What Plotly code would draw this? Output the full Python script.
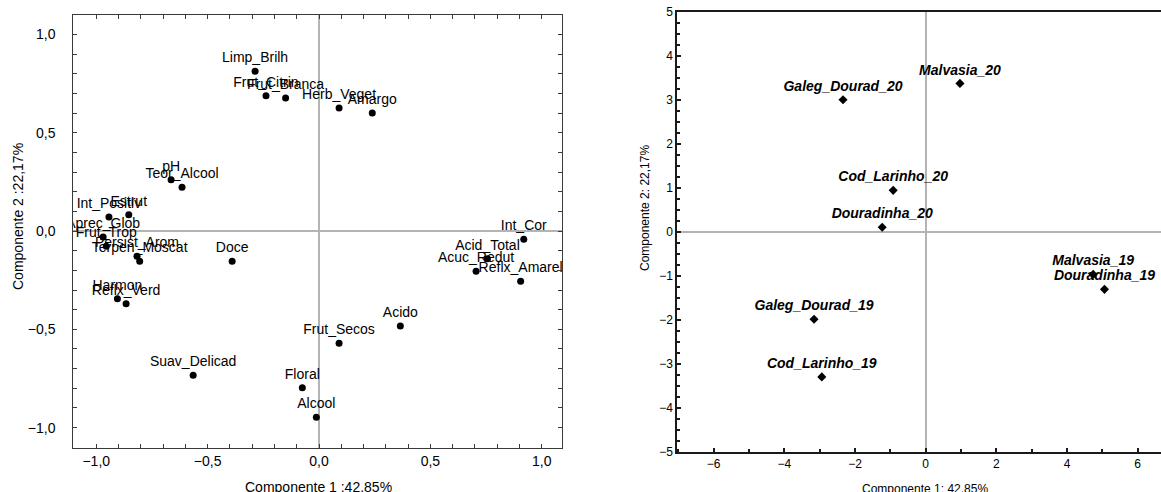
import plotly.graph_objects as go

W, H = 1161, 492

# ---- Data: variable loadings (left panel) ----
var_names = ["Limp_Brilh", "Frut_Citrin", "Frut_Branca", "Herb_Veget", "Amargo",
             "pH", "Teor_Alcool", "Int_Positiv", "Estrut", "Aprec_Glob",
             "Frut_Trop", "Persist_Arom", "Terpen_Moscat", "Doce", "Harmon",
             "Reflx_Verd", "Int_Cor", "Acid_Total", "Acuc_Redut", "Reflx_Amarel",
             "Acido", "Frut_Secos", "Suav_Delicad", "Floral", "Alcool"]
var_pc1 = [-0.287, -0.238, -0.150, 0.090, 0.239,
           -0.664, -0.615, -0.943, -0.854, -0.969,
           -0.955, -0.817, -0.805, -0.390, -0.905,
           -0.866, 0.919, 0.756, 0.705, 0.905,
           0.365, 0.090, -0.565, -0.075, -0.012]
var_pc2 = [0.813, 0.688, 0.676, 0.625, 0.600,
           0.261, 0.222, 0.071, 0.083, -0.030,
           -0.078, -0.129, -0.154, -0.154, -0.344,
           -0.370, -0.042, -0.141, -0.205, -0.256,
           -0.483, -0.571, -0.734, -0.797, -0.947]

# ---- Data: sample scores (right panel) ----
sample_names = ["Malvasia_20", "Galeg_Dourad_20", "Cod_Larinho_20", "Douradinha_20",
                "Malvasia_19", "Douradinha_19", "Galeg_Dourad_19", "Cod_Larinho_19"]
sample_pc1 = [0.97, -2.34, -0.92, -1.23, 4.74, 5.06, -3.16, -2.94]
sample_pc2 = [3.37, 3.00, 0.94, 0.10, -0.97, -1.31, -1.99, -3.30]

left_xtitle = "Componente 1 :42,85%"
left_ytitle = "Componente 2 :22,17%"
right_xtitle = "Componente 1: 42,85%"
right_ytitle = "Componente 2: 22,17%"

FONT = "Arial, 'Liberation Sans', sans-serif"

def px(x):
    return x / W

def py(y):
    return 1 - y / H

fig = go.Figure()

fig.add_trace(go.Scatter(
    x=var_pc1, y=var_pc2, text=var_names, mode="markers+text",
    textposition="top center", cliponaxis=True,
    marker=dict(symbol="circle", size=7, color="black"),
    textfont=dict(family=FONT, size=14, color="black"),
    xaxis="x", yaxis="y", showlegend=False, hoverinfo="skip"))

fig.add_trace(go.Scatter(
    x=sample_pc1, y=sample_pc2, text=sample_names, mode="markers+text",
    textposition="top center", cliponaxis=True,
    marker=dict(symbol="diamond", size=7, color="black"),
    textfont=dict(family=FONT, size=14, color="black", weight="bold", style="italic"),
    xaxis="x2", yaxis="y2", showlegend=False, hoverinfo="skip"))

left_line = "#3a3a3a"
right_line = "#1a1a1a"
zero_col = "#b4b4b4"

fig.update_layout(
    width=W, height=H,
    margin=dict(l=0, r=0, t=0, b=0),
    paper_bgcolor="white", plot_bgcolor="white",
    separators=", ",
    font=dict(family=FONT, color="black"),
    xaxis=dict(domain=[px(73.3), px(562.3)], range=[-1.103, 1.092],
               anchor="y", tickmode="array", tickvals=[-1.0, -0.5, 0.0, 0.5, 1.0],
               tickformat=".1f", ticks="inside", ticklen=4, tickcolor=left_line,
               minor=dict(dtick=0.1, tick0=0, ticks="inside", ticklen=4, tickcolor=left_line),
               showline=True, linecolor=left_line, linewidth=1, mirror="allticks",
               showgrid=False, zeroline=True, zerolinecolor=zero_col, zerolinewidth=1.5,
               tickfont=dict(size=14), automargin=False, fixedrange=True),
    yaxis=dict(domain=[py(447.7), py(15.3)], range=[-1.102, 1.097],
               anchor="x", tickmode="array", tickvals=[-1.0, -0.5, 0.0, 0.5, 1.0],
               tickformat=".1f", ticks="inside", ticklen=4, tickcolor=left_line,
               ticklabelstandoff=14,
               minor=dict(dtick=0.1, tick0=0, ticks="inside", ticklen=4, tickcolor=left_line),
               showline=True, linecolor=left_line, linewidth=1, mirror="allticks",
               showgrid=False, zeroline=True, zerolinecolor=zero_col, zerolinewidth=1.5,
               tickfont=dict(size=14), automargin=False, fixedrange=True),
    xaxis2=dict(domain=[px(677.3), 1.0], range=[-7.03, 6.66],
                anchor="y2", tickmode="array", tickvals=[-6, -4, -2, 0, 2, 4, 6],
                ticks="inside", ticklen=4, tickcolor=right_line, tickwidth=1.5,
                minor=dict(dtick=1, tick0=0, ticks="inside", ticklen=3, tickcolor=right_line),
                showline=True, linecolor=right_line, linewidth=2, mirror=True,
                showgrid=False, zeroline=True, zerolinecolor=zero_col, zerolinewidth=1.5,
                tickfont=dict(size=12), automargin=False, fixedrange=True),
    xaxis3=dict(domain=[px(677.3), 1.0], range=[-7.03 / 0.88, 6.66 / 0.88],
                anchor="y2", overlaying="x2", side="top", dtick=1, tick0=0,
                ticks="inside", ticklen=4, tickcolor=right_line, showticklabels=False,
                showline=False, showgrid=False, zeroline=False, automargin=False,
                fixedrange=True),
    yaxis2=dict(domain=[py(451.7), py(11.7)], range=[-5, 5],
                anchor="x2", dtick=1, tick0=0,
                ticks="inside", ticklen=4, tickcolor=right_line, tickwidth=1.5,
                minor=dict(dtick=0.25, tick0=0, ticks="inside", ticklen=3, tickcolor=right_line),
                showline=True, linecolor=right_line, linewidth=2, mirror=False,
                showgrid=False, zeroline=True, zerolinecolor=zero_col, zerolinewidth=1.5,
                tickfont=dict(size=12), automargin=False, fixedrange=True),
    annotations=[
        dict(text=left_xtitle, x=px(318), y=py(487), xref="paper", yref="paper",
             showarrow=False, font=dict(size=14), xanchor="center", yanchor="middle"),
        dict(text=left_ytitle, x=px(18), y=py(217), xref="paper", yref="paper",
             showarrow=False, font=dict(size=14), textangle=-90,
             xanchor="center", yanchor="middle"),
        dict(text=right_xtitle, x=px(925), y=py(489), xref="paper", yref="paper",
             showarrow=False, font=dict(size=12), xanchor="center", yanchor="middle"),
        dict(text=right_ytitle, x=px(645), y=py(208), xref="paper", yref="paper",
             showarrow=False, font=dict(size=12), textangle=-90,
             xanchor="center", yanchor="middle"),
    ],
)

fig.write_html("out.html")
